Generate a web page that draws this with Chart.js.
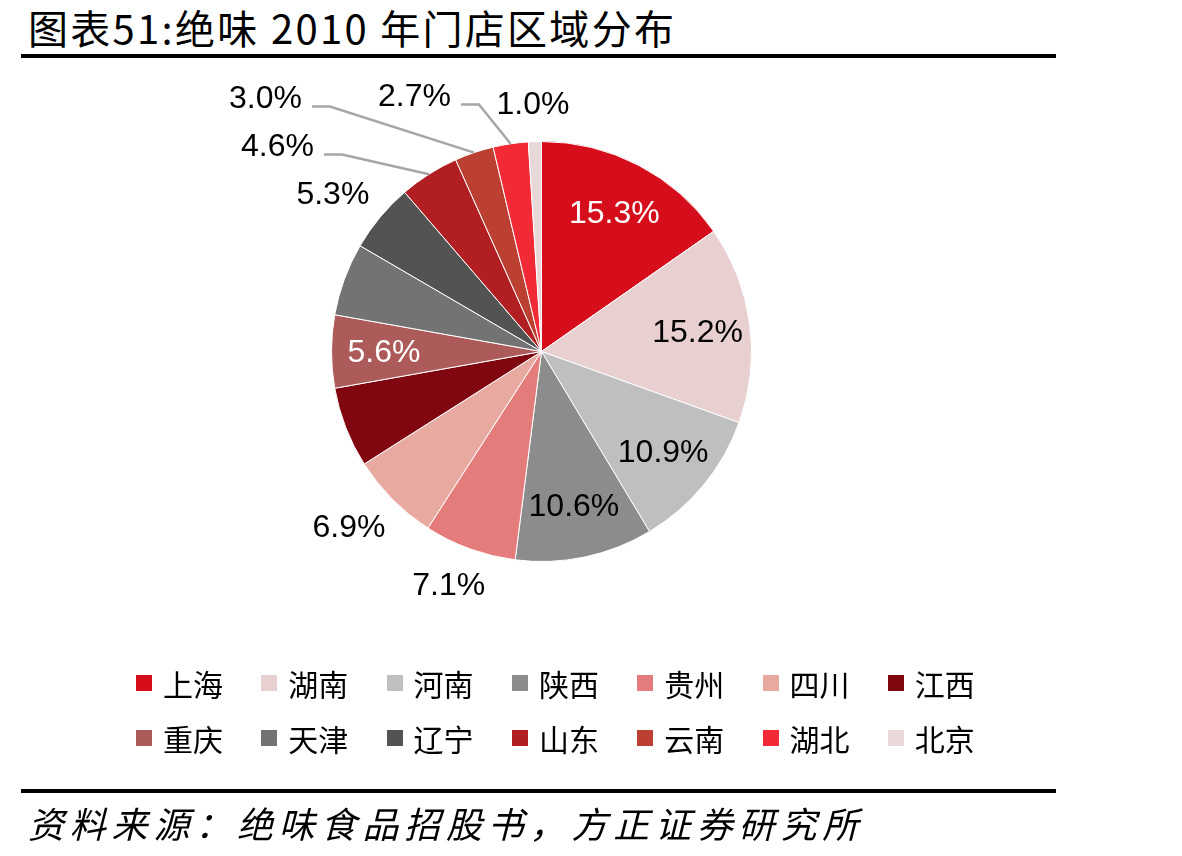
<!DOCTYPE html>
<html>
<head>
<meta charset="utf-8">
<script src="https://cdn.jsdelivr.net/npm/chart.js@4.4.0/dist/chart.umd.min.js"></script>
<style>
html, body { margin: 0; padding: 0; background: #fff; }
body { width: 1182px; height: 856px; position: relative; overflow: hidden; font-family: "Noto Sans CJK SC", sans-serif; color: #000; }
#title { position: absolute; left: 28px; top: 2px; font-size: 40px; line-height: 50px; white-space: nowrap; letter-spacing: 2.3px; }
.rule { position: absolute; left: 21px; width: 1035px; background: #000; }
#chart { position: absolute; left: 0; top: 0; }
.item { position: absolute; display: flex; align-items: center; height: 40px; font-size: 30px; white-space: nowrap; }
.sw { width: 16px; height: 16px; margin-right: 11px; flex: none; }
#source { position: absolute; left: 28px; top: 798px; font-size: 36px; line-height: 48px; font-style: italic; letter-spacing: 5.8px; white-space: nowrap; }
</style>
</head>
<body>
<div id="title">图表51:绝味 2010 年门店区域分布</div>
<div class="rule" style="top:54px;height:4px;"></div>
<canvas id="chart" width="1182" height="856"></canvas>
<div id="legend"></div>
<div class="rule" style="top:789px;height:4px;"></div>
<div id="source">资料来源：绝味食品招股书，方正证券研究所</div>
<script>
// 2010 store share by region (%)
const regions = ['上海', '湖南', '河南', '陕西', '贵州', '四川', '江西', '重庆', '天津', '辽宁', '山东', '云南', '湖北', '北京'];
const shares = [15.3, 15.2, 10.9, 10.6, 7.1, 6.9, 6.2, 5.6, 5.6, 5.3, 4.6, 3.0, 2.7, 1.0];
const colors = ['#D60D1A', '#E8CFD0', '#BFBFBF', '#8C8C8C', '#E57C7C', '#E8A9A0', '#80060F',
                '#AD5A5A', '#737373', '#535353', '#B11F22', '#BC4031', '#F12A36', '#E8D8D9'];

// how each slice gets its label: inside, outside, callout with leader line, or hidden
const labelMode = ['in', 'in', 'in', 'in', 'out', 'out', 'none', 'in', 'none', 'out', 'call', 'call', 'call', 'out'];
const whiteLabels = [0, 7];
const calloutOffset = { 10: [-264, -206], 11: [-276, -254], 12: [-127, -256] };

const pieLabels = {
    id: 'pieLabels',
    afterDatasetsDraw(chart) {
        const ctx = chart.ctx;
        const meta = chart.getDatasetMeta(0);
        ctx.save();
        ctx.font = '32px "Liberation Sans", Arial, sans-serif';
        ctx.textAlign = 'center';
        ctx.textBaseline = 'middle';
        meta.data.forEach((arc, i) => {
            const mode = labelMode[i];
            if (mode === 'none') return;
            const p = arc.getProps(['x', 'y', 'startAngle', 'endAngle', 'outerRadius'], true);
            const mid = (p.startAngle + p.endAngle) / 2;
            const cos = Math.cos(mid), sin = Math.sin(mid);
            const text = shares[i].toFixed(1) + '%';
            const w = ctx.measureText(text).width, h = 26;
            let x, y;
            if (mode === 'in') {
                const r = p.outerRadius * 0.75;
                x = p.x + cos * r;
                y = p.y + sin * r;
            } else if (mode === 'out') {
                const r = p.outerRadius + 25;
                x = p.x + cos * r + cos * w / 2;
                y = p.y + sin * r + sin * h / 2;
            } else {
                const off = calloutOffset[i];
                x = p.x + off[0];
                y = p.y + off[1];
                const ex = p.x + cos * p.outerRadius, ey = p.y + sin * p.outerRadius;
                ctx.beginPath();
                ctx.moveTo(x + w / 2 + 10, y + 9);
                ctx.lineTo(x + w / 2 + 28, y + 9);
                ctx.lineTo(ex, ey);
                ctx.strokeStyle = '#A6A6A6';
                ctx.lineWidth = 2.5;
                ctx.stroke();
            }
            ctx.fillStyle = whiteLabels.includes(i) ? '#fff' : '#000';
            ctx.fillText(text, x, y + 2);
        });
        ctx.restore();
    }
};

new Chart(document.getElementById('chart'), {
    type: 'pie',
    data: {
        labels: regions,
        datasets: [{
            data: shares,
            backgroundColor: colors,
            borderColor: '#fff',
            borderWidth: 1
        }]
    },
    options: {
        responsive: false,
        animation: false,
        layout: {
            padding: { left: 331, right: 430, top: 141, bottom: 294 }
        },
        plugins: {
            legend: { display: false },
            tooltip: { enabled: false }
        }
    },
    plugins: [pieLabels]
});

// legend: 2 rows x 7
const legend = document.getElementById('legend');
regions.forEach((name, i) => {
    const item = document.createElement('div');
    item.className = 'item';
    item.style.left = (136 + (i % 7) * 125.3) + 'px';
    item.style.top = (663 + Math.floor(i / 7) * 55) + 'px';
    item.innerHTML = '<span class="sw" style="background:' + colors[i] + '"></span>' + name;
    legend.appendChild(item);
});
</script>
</body>
</html>
